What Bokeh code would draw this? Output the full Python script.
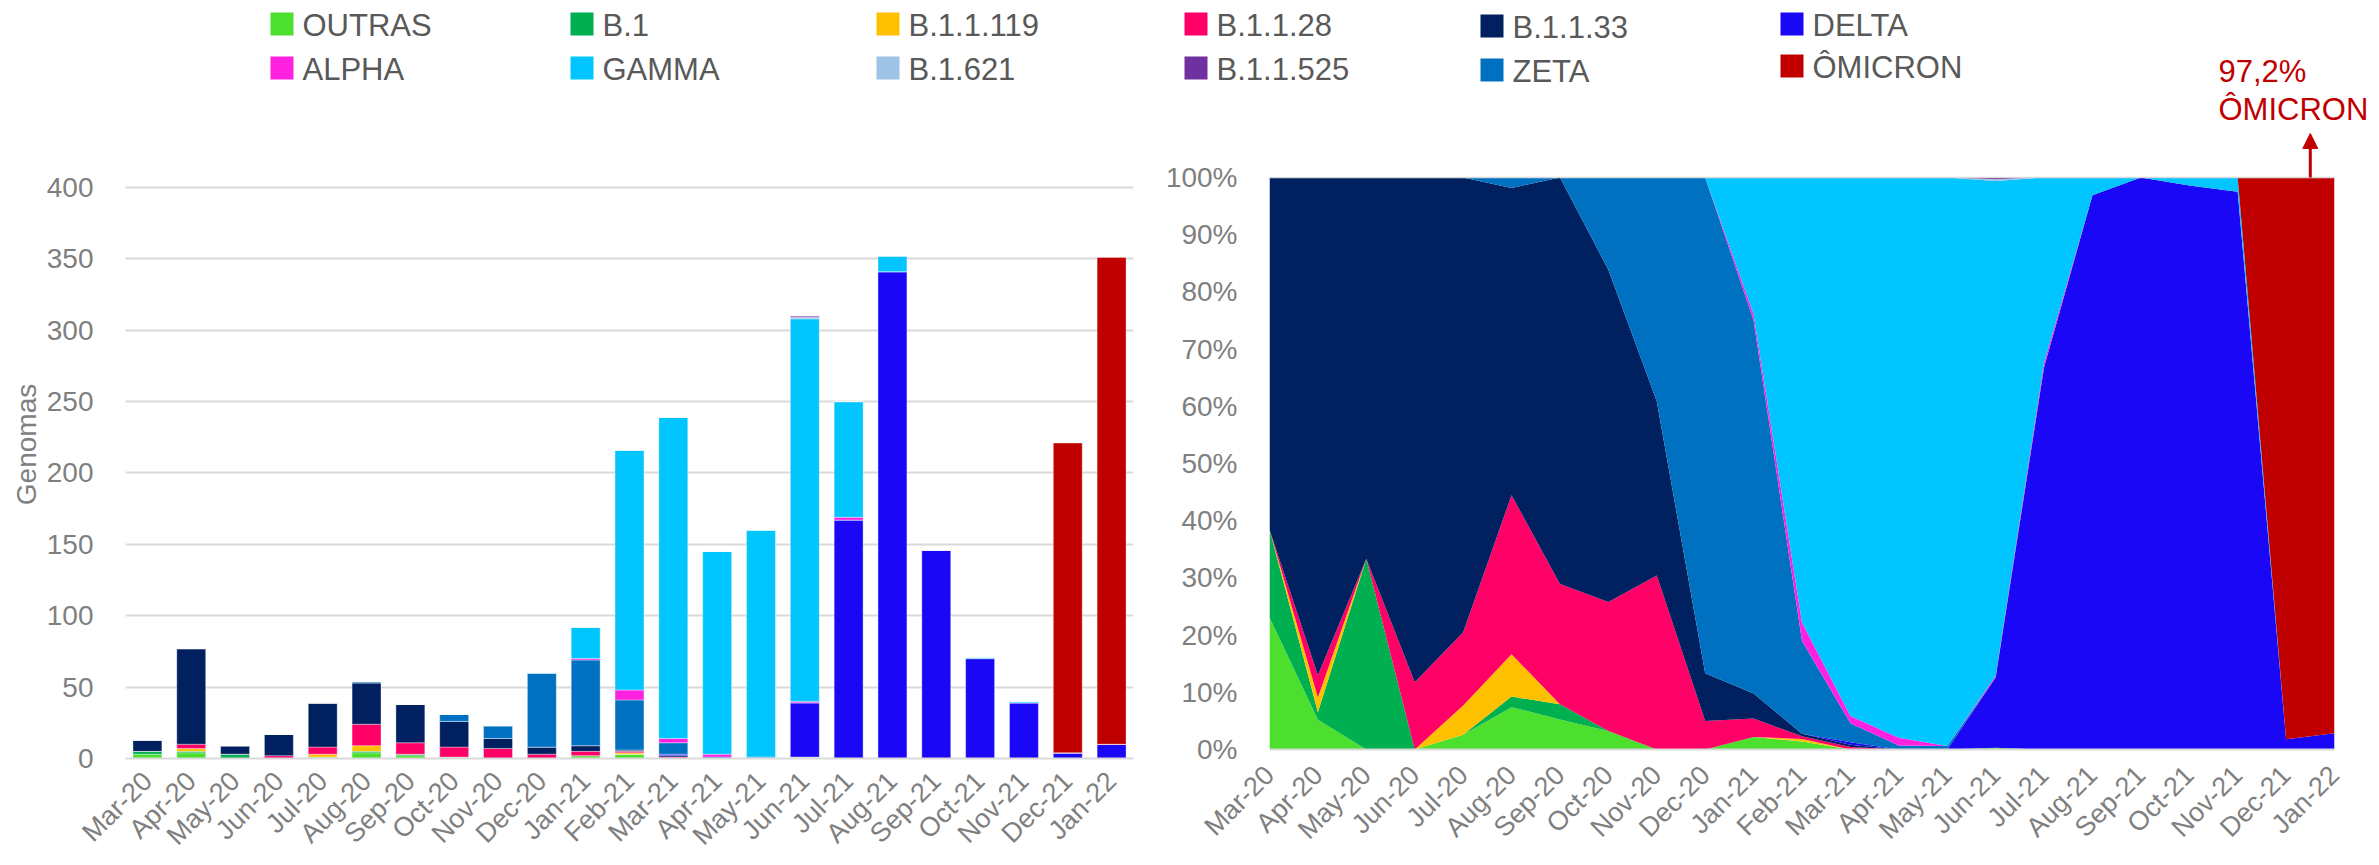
from bokeh.plotting import figure
from bokeh.models import (Range1d, FactorRange, FixedTicker, ColumnDataSource, Arrow,
                          NormalHead, Span, NumeralTickFormatter)
from bokeh.layouts import column, row
from bokeh.embed import file_html
from bokeh.resources import INLINE
from bokeh.core.properties import value

# ---------------- data ----------------
months = ["Mar-20", "Apr-20", "May-20", "Jun-20", "Jul-20", "Aug-20", "Sep-20", "Oct-20",
          "Nov-20", "Dec-20", "Jan-21", "Feb-21", "Mar-21", "Apr-21", "May-21", "Jun-21",
          "Jul-21", "Aug-21", "Sep-21", "Oct-21", "Nov-21", "Dec-21", "Jan-22"]

outras    = [3, 4, 0, 0, 1, 4, 2, 1, 0, 0, 2, 3, 0, 0, 0, 1, 0, 0, 0, 0, 0, 0, 0]
b1        = [2, 1, 3, 0, 0, 1, 1, 0, 0, 0, 0, 0, 0, 0, 0, 0, 0, 0, 0, 0, 0, 0, 0]
b11119    = [0, 2, 0, 0, 2, 4, 0, 0, 0, 0, 0, 1, 0, 0, 0, 0, 0, 0, 0, 0, 0, 0, 0]
b1128     = [0, 3, 0, 2, 5, 15, 8, 7, 7, 3, 3, 1, 1, 0, 0, 0, 0, 0, 0, 0, 0, 0, 0]
b1133     = [8, 67, 6, 15, 31, 29, 27, 18, 7, 5, 4, 1, 1, 0, 0, 0, 0, 0, 0, 0, 0, 0, 0]
delta     = [0, 0, 0, 0, 0, 0, 0, 0, 0, 0, 0, 0, 1, 0, 0, 38, 167, 341, 146, 70, 39, 4, 10]
zeta      = [0, 0, 0, 0, 0, 1, 0, 5, 9, 52, 60, 35, 8, 1, 1, 0, 0, 0, 0, 0, 0, 0, 0]
alpha     = [0, 0, 0, 0, 0, 0, 0, 0, 0, 0, 1, 7, 3, 2, 0, 1, 2, 0, 0, 0, 0, 0, 0]
gamma     = [0, 0, 0, 0, 0, 0, 0, 0, 0, 0, 22, 168, 225, 142, 159, 268, 81, 11, 0, 1, 1, 0, 0]
b1621     = [0, 0, 0, 0, 0, 0, 0, 0, 0, 0, 0, 0, 0, 0, 0, 1, 0, 0, 0, 0, 0, 0, 0]
b11525    = [0, 0, 0, 0, 0, 0, 0, 0, 0, 0, 0, 0, 0, 0, 0, 1, 0, 0, 0, 0, 0, 0, 0]
omicron   = [0, 0, 0, 0, 0, 0, 0, 0, 0, 0, 0, 0, 0, 0, 0, 0, 0, 0, 0, 0, 0, 217, 341]

y_ticks_count = [0, 50, 100, 150, 200, 250, 300, 350, 400]
y_ticks_pct = [0.0, 0.1, 0.2, 0.3, 0.4, 0.5, 0.6, 0.7, 0.8, 0.9, 1.0]
annotation_lines = ["97,2%", "ÔMICRON"]

# stacking order (bottom -> top)
series = [
    ("outras", "OUTRAS", outras, "#4CDF2E"),
    ("b1", "B.1", b1, "#00B050"),
    ("b11119", "B.1.1.119", b11119, "#FFC000"),
    ("b1128", "B.1.1.28", b1128, "#FF0066"),
    ("b1133", "B.1.1.33", b1133, "#002060"),
    ("delta", "DELTA", delta, "#1A07F5"),
    ("zeta", "ZETA", zeta, "#0070C0"),
    ("alpha", "ALPHA", alpha, "#FF21E0"),
    ("gamma", "GAMMA", gamma, "#00C5FF"),
    ("b1621", "B.1.621", b1621, "#9DC3E6"),
    ("b11525", "B.1.1.525", b11525, "#7030A0"),
    ("omicron", "ÔMICRON", omicron, "#C00000"),
]
keys = [s[0] for s in series]
colors = [s[3] for s in series]
color_of = {s[1]: s[3] for s in series}

# legend order as in the reference (row-major)
legend_rows = [["OUTRAS", "B.1", "B.1.1.119", "B.1.1.28", "B.1.1.33", "DELTA"],
               ["ALPHA", "GAMMA", "B.1.621", "B.1.1.525", "ZETA", "ÔMICRON"]]

FONT = "Liberation Sans"
GREY = "#7F7F7F"
GRID = "#D9D9D9"

# ---------------- sources ----------------
counts = {"month": months}
for k, _, vals, _ in series:
    counts[k] = vals
src = ColumnDataSource(counts)

totals = [sum(s[2][i] for s in series) for i in range(len(months))]
pct = {"x": list(range(len(months)))}
for k, _, vals, _ in series:
    pct[k] = [v / t for v, t in zip(vals, totals)]
psrc = ColumnDataSource(pct)

# ---------------- legend figure (page rows 0..130) ----------------
LW, LH = 2376, 130
leg = figure(width=LW, height=LH, x_range=Range1d(0, LW), y_range=Range1d(LH, 0),
             toolbar_location=None, output_backend="svg", min_border=0,
             x_axis_location=None, y_axis_location=None)
leg.grid.visible = False
leg.outline_line_color = None

col_x = [270, 570, 876, 1184, 1480, 1780]
row_y = [23.5, 67.5]
row_dy = {"B.1.1.33": 2, "ZETA": 2, "ÔMICRON": -2}
sw_x, sw_y, sw_c, tx_x, tx_y, tx_t = [], [], [], [], [], []
for r, names in enumerate(legend_rows):
    for c, name in enumerate(names):
        cy = row_y[r] + row_dy.get(name, 0)
        sw_x.append(col_x[c] + 11.5)
        sw_y.append(cy)
        sw_c.append(color_of[name])
        tx_x.append(col_x[c] + 32)
        tx_y.append(cy + 1)
        tx_t.append(name)
leg.rect(x=sw_x, y=sw_y, width=23, height=23, fill_color=sw_c, line_color=None)
leg.text(x=tx_x, y=tx_y, text=tx_t, text_font=value(FONT), text_font_size="31px",
         text_color="#595959", text_baseline="middle", text_align="left")
leg.text(x=[2218, 2218], y=[71, 109], text=annotation_lines, text_font=value(FONT),
         text_font_size="31px", text_color="#C00000", text_baseline="middle",
         text_align="left")

# ---------------- common frame geometry ----------------
H2 = 735          # figure height (page rows 130..865)
BOTTOM = 107      # frame: page rows 130..758
LEFT_W = 1160

# ---------------- left: stacked bars ----------------
left = figure(width=LEFT_W, height=H2, x_range=FactorRange(*months), y_range=Range1d(0, 439.9),
              toolbar_location=None, output_backend="svg",
              min_border_left=125, min_border_right=27, min_border_top=0, min_border_bottom=BOTTOM)
left.vbar_stack(keys, x="month", width=0.66, color=colors, source=src,
                line_color="white", line_width=0.8, line_alpha=0.45)
left.outline_line_color = None
left.xgrid.visible = False
left.ygrid.ticker = FixedTicker(ticks=y_ticks_count[1:])
left.ygrid.grid_line_color = GRID
left.ygrid.grid_line_width = 2
left.yaxis.ticker = FixedTicker(ticks=y_ticks_count)
left.yaxis.axis_line_color = None
left.yaxis.axis_label = "Genomas"
left.yaxis.axis_label_text_font = FONT
left.yaxis.axis_label_text_font_size = "28px"
left.yaxis.axis_label_text_font_style = "normal"
left.yaxis.axis_label_text_color = GREY
left.yaxis.axis_label_standoff = 2
left.xaxis.axis_line_color = GRID
left.xaxis.axis_line_width = 2
left.xaxis.major_label_orientation = 0.785398
for ax in (left.xaxis, left.yaxis):
    ax.major_tick_line_color = None
    ax.minor_tick_line_color = None
    ax.major_label_text_font = FONT
    ax.major_label_text_color = GREY
left.yaxis.major_label_text_font_size = "28px"
left.xaxis.major_label_text_font_size = "27px"
left.yaxis.major_label_standoff = 26
left.xaxis.major_label_standoff = 12

# ---------------- right: 100% stacked area ----------------
right = figure(width=1212, height=H2, x_range=Range1d(0, len(months) - 1),
               y_range=Range1d(-0.0157, 1.082),
               toolbar_location=None, output_backend="svg",
               min_border_left=109, min_border_right=38, min_border_top=0, min_border_bottom=BOTTOM)
right.varea_stack(keys, x="x", color=colors, source=psrc)
right.outline_line_color = None
right.grid.visible = False
right.add_layout(Span(location=1, dimension="width", line_color=GRID, line_width=1.5))
right.add_layout(Span(location=0, dimension="width", line_color=GRID, line_width=2))
right.xaxis.ticker = FixedTicker(ticks=list(range(len(months))))
right.xaxis.major_label_overrides = {i: m for i, m in enumerate(months)}
right.yaxis.ticker = FixedTicker(ticks=y_ticks_pct)
right.yaxis.formatter = NumeralTickFormatter(format="0%")
right.yaxis.axis_line_color = None
right.xaxis.axis_line_color = None
right.xaxis.major_label_orientation = 0.785398
for ax in (right.xaxis, right.yaxis):
    ax.major_tick_line_color = None
    ax.minor_tick_line_color = None
    ax.major_label_text_font = FONT
    ax.major_label_text_color = GREY
right.yaxis.major_label_text_font_size = "28px"
right.xaxis.major_label_text_font_size = "27px"
right.yaxis.major_label_standoff = 26
right.xaxis.major_label_standoff = 6

last = len(months) - 1
right.add_layout(Arrow(end=NormalHead(size=15, fill_color="#C00000", line_color="#C00000"),
                       x_start=last - 0.5, y_start=1.0, x_end=last - 0.5, y_end=1.0768,
                       line_color="#C00000", line_width=3))

layout = column(leg, row(left, right, spacing=0), spacing=0)
open("out.html", "w").write(file_html(layout, INLINE))
